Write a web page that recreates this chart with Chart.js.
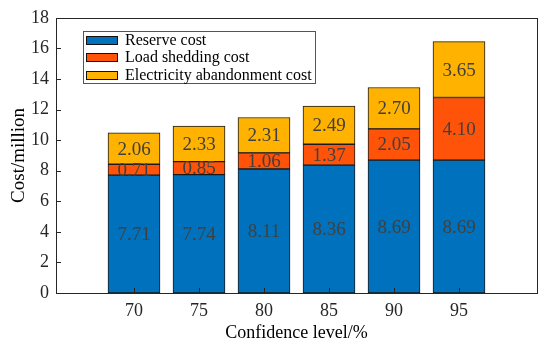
<!DOCTYPE html>
<html>
<head>
<meta charset="utf-8">
<script src="https://cdn.jsdelivr.net/npm/chart.js@4/dist/chart.umd.min.js"></script>
<style>
html,body{margin:0;padding:0;background:#fff;}
#wrap{width:550px;height:348px;position:relative;}
</style>
</head>
<body>
<div id="wrap"><canvas id="c" width="550" height="348"></canvas></div>
<script>
const categories = [70, 75, 80, 85, 90, 95];
const reserveCost = [7.71, 7.74, 8.11, 8.36, 8.69, 8.69];
const loadSheddingCost = [0.71, 0.85, 1.06, 1.37, 2.05, 4.10];
const abandonmentCost = [2.06, 2.33, 2.31, 2.49, 2.70, 3.65];
const yTicks = [0, 2, 4, 6, 8, 10, 12, 14, 16, 18];
const seriesNames = ['Reserve cost', 'Load shedding cost', 'Electricity abandonment cost'];
const seriesColors = ['#0072BD', '#FF5309', '#FFB300'];

const FONT = '"Liberation Serif", "Times New Roman", serif';

function toPoints(vals){ return categories.map((c,i)=>({x:c, y:vals[i]})); }

const frameAndTicks = {
  id: 'frameAndTicks',
  afterDatasetsDraw(chart){
    const ctx = chart.ctx, a = chart.chartArea;
    const xs = chart.scales.x, ys = chart.scales.y;
    ctx.save();
    ctx.strokeStyle = '#262626';
    ctx.lineWidth = 1;
    ctx.beginPath();
    yTicks.forEach(v=>{
      const p = Math.round(ys.getPixelForValue(v)) + 0.5;
      ctx.moveTo(a.left, p); ctx.lineTo(a.left + 5, p);
    });
    categories.forEach(v=>{
      const p = Math.round(xs.getPixelForValue(v)) + 0.5;
      ctx.moveTo(p, a.bottom); ctx.lineTo(p, a.bottom - 5);
    });
    ctx.stroke();
    ctx.strokeRect(Math.round(a.left)+0.5, Math.round(a.top)+0.5, Math.round(a.right - a.left), Math.round(a.bottom - a.top));
    ctx.restore();
  }
};

const valueLabels = {
  id: 'valueLabels',
  afterDatasetsDraw(chart){
    const ctx = chart.ctx;
    ctx.save();
    ctx.font = '19px ' + FONT;
    ctx.fillStyle = '#404040';
    ctx.textAlign = 'center';
    ctx.textBaseline = 'middle';
    chart.data.datasets.forEach((ds, di)=>{
      const meta = chart.getDatasetMeta(di);
      meta.data.forEach((el, i)=>{
        const v = ds.data[i].y;
        const yc = (el.y + el.base) / 2;
        ctx.fillText(v.toFixed(2), el.x, yc + 1);
      });
    });
    ctx.restore();
  }
};

const boxLegend = {
  id: 'boxLegend',
  afterDraw(chart){
    const ctx = chart.ctx;
    const left = 83, top = 31, w = 232, h = 52;
    ctx.save();
    ctx.fillStyle = '#fff';
    ctx.fillRect(left, top, w, h);
    ctx.strokeStyle = '#555';
    ctx.lineWidth = 1;
    ctx.strokeRect(left + 0.5, top + 0.5, w, h);
    ctx.font = '16px ' + FONT;
    ctx.textBaseline = 'middle';
    ctx.textAlign = 'left';
    chart.data.datasets.forEach((ds, i)=>{
      const cy = top + 8.5 + i * 17.5;
      ctx.fillStyle = ds.backgroundColor;
      ctx.fillRect(86, Math.round(cy - 4), 31, 8);
      ctx.strokeStyle = '#111';
      ctx.strokeRect(86.5, Math.round(cy - 4) + 0.5, 31, 8);
      ctx.fillStyle = '#000';
      ctx.fillText(ds.label, 125, cy + 1);
    });
    ctx.restore();
  }
};

new Chart(document.getElementById('c'), {
  type: 'bar',
  data: {
    datasets: [
      {label: seriesNames[0], data: toPoints(reserveCost), backgroundColor: seriesColors[0]},
      {label: seriesNames[1], data: toPoints(loadSheddingCost), backgroundColor: seriesColors[1]},
      {label: seriesNames[2], data: toPoints(abandonmentCost), backgroundColor: seriesColors[2]}
    ]
  },
  options: {
    responsive: false,
    animation: false,
    devicePixelRatio: 1,
    layout: {padding: {top: 13, right: 13, left: 0, bottom: 0}},
    datasets: {bar: {barThickness: 52, borderColor: '#1a1a1a', borderWidth: 1, borderSkipped: false}},
    plugins: {legend: {display: false}, tooltip: {enabled: false}},
    scales: {
      x: {
        type: 'linear', stacked: true, min: 64, max: 101, offset: false,
        afterBuildTicks: s => { s.ticks = categories.map(v=>({value:v})); },
        afterFit: s => { s.height = 55; },
        grid: {display: false, drawTicks: false, offset: false},
        border: {display: false},
        ticks: {font: {family: FONT, size: 18}, color: '#262626', padding: 7, maxRotation: 0, autoSkip: false},
        title: {display: true, text: 'Confidence level/%', font: {family: FONT, size: 18}, color: '#000', padding: {top: 0, bottom: 4}}
      },
      y: {
        stacked: true, min: 0, max: 18,
        afterBuildTicks: s => { s.ticks = yTicks.map(v=>({value:v})); },
        afterFit: s => { s.width = 56; },
        grid: {display: false, drawTicks: false},
        border: {display: false},
        ticks: {font: {family: FONT, size: 18}, color: '#262626', padding: 7},
        title: {display: true, text: 'Cost/million', font: {family: FONT, size: 19}, color: '#000', padding: {top: 8, bottom: 0}}
      }
    }
  },
  plugins: [frameAndTicks, valueLabels, boxLegend]
});
</script>
</body>
</html>
